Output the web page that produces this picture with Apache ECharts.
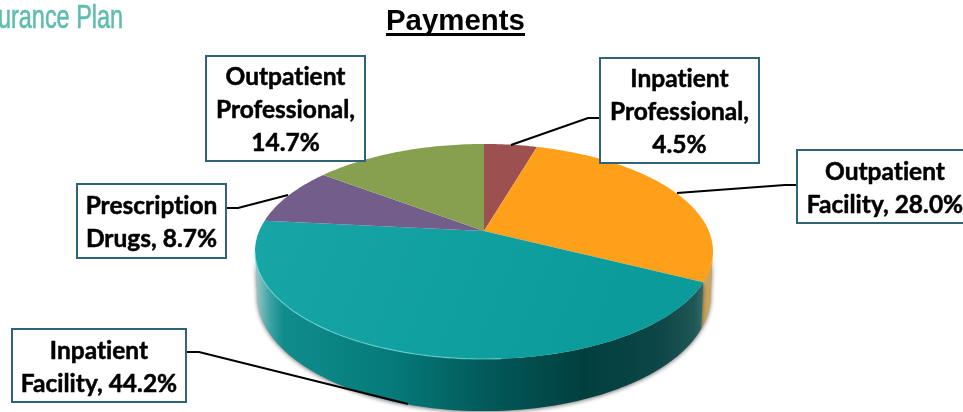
<!DOCTYPE html>
<html>
<head>
<meta charset="utf-8">
<style>html,body{margin:0;padding:0;background:#fff;overflow:hidden}#c{width:963px;height:412px}</style>
<script src="https://cdn.jsdelivr.net/npm/echarts@6/dist/echarts.min.js"></script>
</head>
<body>
<div id="c"></div>
<script>
// ---- data ----
const titleText = 'Payments';
const logoText = 'urance Plan';
const categories = ['Inpatient\nProfessional', 'Outpatient\nFacility', 'Inpatient\nFacility', 'Prescription\nDrugs', 'Outpatient\nProfessional'];
const payments = [4.5, 28.0, 44.2, 8.7, 14.7];
const valueBreaks = ['\n', ' ', ' ', ' ', '\n'];
// ---- styles ----
const tealTop = {
  type: 'linear', x: 256, y: 220, x2: 600, y2: 360, global: true,
  colorStops: [{ offset: 0, color: '#17a5a5' }, { offset: 1, color: '#0c9b9b' }]
};
const topColors = ['#9c5050', '#ffa01a', tealTop, '#735d8b', '#87a050'];
const boxes = [[600, 58, 159, 105], [797, 150, 176, 73], [12, 329, 174, 73], [77, 184, 149, 74], [206, 56, 159, 105]];
const leaders = [
  [[600, 118], [588, 118], [511, 145]],
  [[797, 185], [785, 185], [677, 193]],
  [[186, 352], [199, 352], [408, 404]],
  [[226, 208], [238, 208], [288, 195]],
  []
];
// plain letter shapes, no "ti" ligature as in the reference font
const origGetContext = HTMLCanvasElement.prototype.getContext;
HTMLCanvasElement.prototype.getContext = function () {
  const ctx = origGetContext.apply(this, arguments);
  if (ctx && 'textRendering' in ctx) ctx.textRendering = 'optimizeSpeed';
  return ctx;
};
// ---- pie projection (a tilted disc seen in perspective) ----
const CX = 484, CY = 231, BX = 224.8, BY = 103.6, K = 0.1906;
const total = payments.reduce((a, b) => a + b, 0);
const rim = a => {
  const u = Math.sin(a), v = Math.cos(a), d = 1 + K * v;
  return [CX + BX * u / d, CY - BY * v / d];
};
const rimLow = a => {
  const p = rim(a);
  return [CX + (p[0] - CX) * 0.99, 296 + (p[1] - 251.4) * 1.07];
};
const arc = (f, a0, a1) => {
  const n = Math.max(2, Math.ceil(Math.abs(a1 - a0) / 0.02)), pts = [];
  for (let i = 0; i <= n; i++) pts.push(f(a0 + (a1 - a0) * i / n));
  return pts;
};
const TAU = Math.PI * 2;
const wallLeft = TAU - Math.acos(-K), wallRight = Math.acos(-K);
let running = 0;
const sliceData = payments.map((v, i) => { const s = running; running += v; return [v, s, i]; });

const tealWall = {
  type: 'linear', x: 256, y: 0, x2: 712, y2: 0, global: true,
  colorStops: [
    { offset: 0, color: '#9cc6c6' }, { offset: 0.03, color: '#3fa3a3' }, { offset: 0.06, color: '#108c8c' },
    { offset: 0.30, color: '#057a7a' }, { offset: 0.50, color: '#035a5a' }, { offset: 0.72, color: '#013f3f' },
    { offset: 0.88, color: '#0d4646' }, { offset: 0.96, color: '#1e5555' }, { offset: 1, color: '#4c7c7c' }
  ]
};
const wallColors = [null, '#c9a45c', tealWall, null, null];

function renderWall(params, api) {
  const i = api.value(2);
  const a0 = api.value(1) / total * TAU, a1 = a0 + api.value(0) / total * TAU;
  const s = Math.max(a0, wallRight), e = Math.min(a1, wallLeft);
  if (e <= s || !wallColors[i]) return { type: 'group', children: [] };
  const pts = arc(rim, s, e).concat(arc(rimLow, e, s));
  return {
    type: 'polygon', shape: { points: pts },
    style: { fill: wallColors[i], shadowBlur: 4, shadowColor: 'rgba(0,0,0,0.55)', shadowOffsetY: 1 }
  };
}
function renderTop(params, api) {
  const i = api.value(2);
  const a0 = api.value(1) / total * TAU, a1 = a0 + api.value(0) / total * TAU;
  const pts = [[CX, CY]].concat(arc(rim, a0, a1));
  const children = [{ type: 'polygon', shape: { points: pts }, style: { fill: topColors[i] } }];
  if (i === 2) {
    children.push({
      type: 'polyline', shape: { points: arc(rim, wallLeft, Math.PI * 0.98) },
      style: { fill: null, stroke: 'rgba(120,225,225,0.65)', lineWidth: 1.2 }
    });
  }
  return { type: 'group', children };
}
function renderLabel(params, api) {
  const i = api.value(2), b = boxes[i];
  const text = categories[i] + ',' + valueBreaks[i] + api.value(0).toFixed(1) + '%';
  const children = [];
  if (leaders[i].length) children.push({
    type: 'polyline', shape: { points: leaders[i] },
    style: { fill: null, stroke: '#000', lineWidth: 2 }
  });
  children.push({
    type: 'rect', shape: { x: b[0], y: b[1], width: b[2], height: b[3] },
    style: { fill: '#fff', stroke: '#2e6378', lineWidth: 2 }
  });
  children.push({
    type: 'text', x: b[0] + b[2] / 2, y: b[1] + b[3] / 2 + 2,
    style: { text, fill: '#000', stroke: '#000', lineWidth: 0.5, align: 'center', verticalAlign: 'middle',
      font: 'bold 24.5px Lato', lineHeight: 33 }
  });
  return { type: 'group', children };
}

const chart = echarts.init(document.getElementById('c'), null, { renderer: 'canvas' });
chart.setOption({
  animation: false,
  backgroundColor: '#fff',
  title: {
    text: titleText, left: 386, top: 7, padding: 0,
    textStyle: { fontFamily: 'Liberation Sans', fontWeight: 'bold', fontSize: 29.4, color: '#000' }
  },
  graphic: [
    { type: 'rect', shape: { x: 386, y: 33, width: 139, height: 3 }, style: { fill: '#000' } },
    { type: 'text', x: -2, y: 2, scaleX: 0.71, style: { text: logoText, fill: '#5fbcae', stroke: '#5fbcae', lineWidth: 0.6, font: '33px "Liberation Sans"' } }
  ],
  series: [
    { type: 'custom', coordinateSystem: 'none', silent: true, z: 1, data: sliceData, renderItem: renderWall },
    { type: 'custom', coordinateSystem: 'none', silent: true, z: 2, data: sliceData, renderItem: renderTop },
    { type: 'custom', coordinateSystem: 'none', silent: true, z: 3, data: sliceData, renderItem: renderLabel }
  ]
});
</script>
</body>
</html>
